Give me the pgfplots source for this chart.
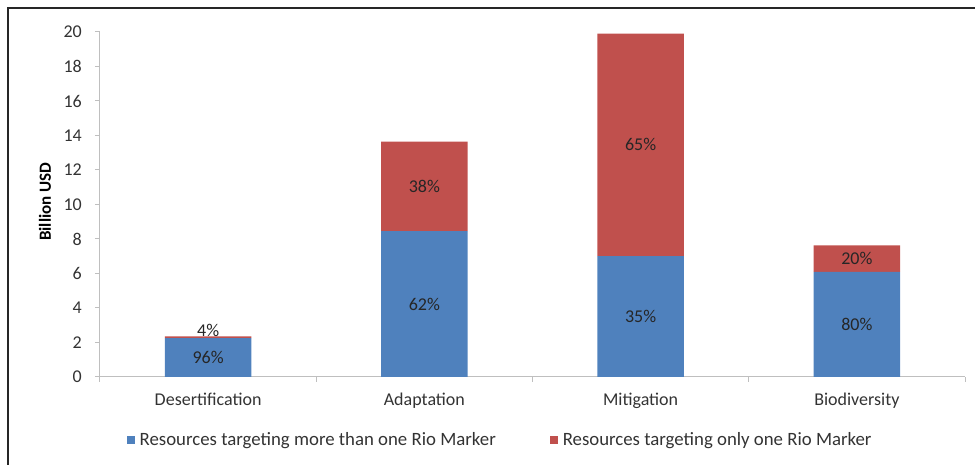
\documentclass[border=0pt]{standalone}
\usepackage{fontspec}
\setmainfont{Carlito}
\usepackage{pgfplots}
\usepackage{pgfplotstable}
\pgfplotsset{compat=1.18}

\definecolor{rioblue}{HTML}{4F81BD}
\definecolor{riored}{HTML}{C0504D}
\definecolor{axisgray}{HTML}{BFBFBF}
\definecolor{labelgray}{HTML}{333333}

% columns: category index, billion USD, share of the total (%), label offset (pt)
\pgfplotstableread{
x  y      lbl  dy
0  2.26   96   0
1  8.45   62   0
2  7.01   35   0
3  6.09   80   0
}\multimarker
\pgfplotstableread{
x  y      lbl  dy
0  0.10   4    7
1  5.19   38   0
2  12.89  65   0
3  1.54   20   0
}\singlemarker

\begin{document}
\begin{tikzpicture}[x=1pt,y=1pt]
\useasboundingbox (0,0) rectangle (975,465);
\draw[line width=2pt, black!85] (8,-10) -- (8,457) -- (990,457);
\begin{axis}[
  at={(100pt,88pt)}, anchor=south west,
  scale only axis, width=865pt, height=345pt,
  ybar stacked, bar width=0.4,
  xmin=-0.5, xmax=3.5, ymin=0, ymax=20,
  xtick={0,1,2,3},
  xticklabels={Desertification,Adaptation,Mitigation,Biodiversity},
  major x tick style={draw=none},
  minor xtick={-0.5,0.5,1.5,2.5,3.5},
  ytick={0,2,...,20},
  axis x line=bottom, axis y line=left,
  axis line style={-, axisgray, line width=1pt},
  every tick/.style={axisgray, line width=1pt},
  tick align=outside,
  major tick length=5pt, minor tick length=5pt,
  /pgf/number format/assume math mode=true,
  yticklabel style={anchor=east, inner sep=0pt, xshift=-13pt, text=labelgray,
    font=\fontsize{18}{21}\selectfont},
  xticklabel style={anchor=base, inner sep=0pt, yshift=-24pt, text=labelgray,
    font=\fontsize{18}{21}\selectfont},
  ylabel={Billion USD},
  every axis y label/.style={at={(axis description cs:-0.0636,0.508)},
    rotate=90, anchor=center, font=\bfseries\fontsize{17}{20}\selectfont},
  point meta=explicit symbolic,
  nodes near coords={\pgfplotspointmeta\%},
  visualization depends on={\thisrow{dy} \as \dy},
  every node near coord/.append style={anchor=center, inner sep=0pt,
    font=\fontsize{18}{21}\selectfont, text=black!85, yshift={\dy}},
  legend columns=2,
  legend style={draw=none, fill=none, inner sep=0pt, outer sep=0pt,
    at={(0.0309,-0.1826)}, anchor=west,
    font=\fontsize{18.8}{22}\selectfont, text=labelgray,
    nodes={inner sep=0pt},
    /tikz/every odd column/.append style={column sep=5pt},
    /tikz/every even column/.append style={column sep=54pt}},
  legend image code/.code={\fill[#1] (0pt,-4pt) rectangle (8pt,4pt);},
]
\addplot[fill=rioblue, draw=none] table[x=x, y=y, meta=lbl] {\multimarker};
\addlegendentry{Resources targeting more than one Rio Marker}
\addplot[fill=riored, draw=none] table[x=x, y=y, meta=lbl] {\singlemarker};
\addlegendentry{Resources targeting only one Rio Marker}
\end{axis}
\end{tikzpicture}
\end{document}
